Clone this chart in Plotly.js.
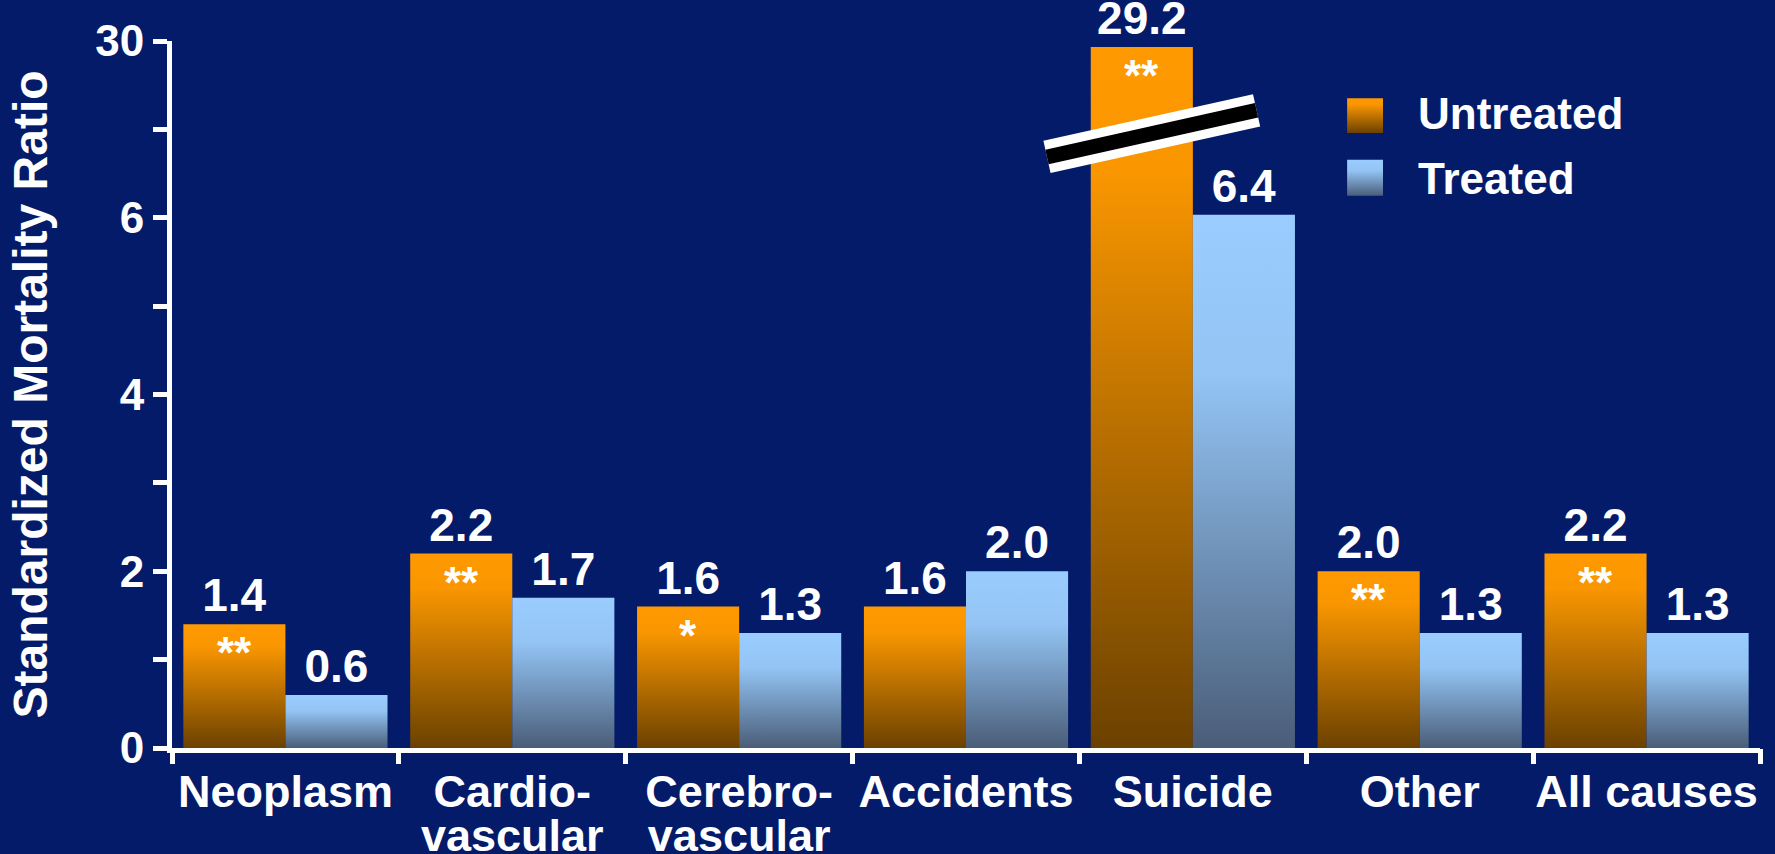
<!DOCTYPE html>
<html>
<head>
<meta charset="utf-8">
<script src="https://cdn.plot.ly/plotly-3.0.1.min.js"></script>
<style>
  html, body { margin: 0; padding: 0; background: #041B6A; }
  #chart { width: 1775px; height: 854px; }
</style>
</head>
<body>
<div id="chart"></div>
<script>
// ---- Data ----
const categories = ["Neoplasm", "Cardio-<br>vascular", "Cerebro-<br>vascular", "Accidents", "Suicide", "Other", "All causes"];
const untreated = [1.4, 2.2, 1.6, 1.6, 29.2, 2.0, 2.2];
const treated   = [0.6, 1.7, 1.3, 2.0, 6.4, 1.3, 1.3];
const significance = ["**", "**", "*", "", "**", "**", "**"];
const seriesNames = ["Untreated", "Treated"];
const yTickValues = [0, 2, 4, 6, 30];

// ---- Broken y axis: 0..6 linear, 6..30 compressed into 6..8 ----
const BREAK_LOW = 6, BREAK_HIGH = 30, BREAK_TOP = 8;
function toAxis(v) {
  return v <= BREAK_LOW ? v : BREAK_LOW + (v - BREAK_LOW) * (BREAK_TOP - BREAK_LOW) / (BREAK_HIGH - BREAK_LOW);
}

const FONT = "Liberation Sans, Arial, Helvetica, sans-serif";
const BG = "#041B6A";
const BARGAP = 0.1;
const barHalfOffset = (1 - BARGAP) / 4;

const idx = categories.map((c, i) => i);

const labelFont = { family: FONT, size: 46, color: "#ffffff", weight: 700 };

const traceU = {
  type: "bar", name: seriesNames[0],
  x: idx, y: untreated.map(toAxis),
  text: untreated.map(v => v.toFixed(1)),
  textposition: "outside", cliponaxis: false, constraintext: "none",
  textfont: labelFont, outsidetextfont: labelFont,
  marker: { color: "#FF9900", line: { width: 0 } },
  hoverinfo: "skip"
};
const traceT = {
  type: "bar", name: seriesNames[1],
  x: idx, y: treated.map(toAxis),
  text: treated.map(v => v.toFixed(1)),
  textposition: "outside", cliponaxis: false, constraintext: "none",
  textfont: labelFont, outsidetextfont: labelFont,
  marker: { color: "#99CCFF", line: { width: 0 } },
  hoverinfo: "skip"
};

// significance asterisks at the top inside untreated bars
const annotations = [];
significance.forEach((s, i) => {
  if (!s) return;
  annotations.push({
    x: i - barHalfOffset, xref: "x", y: toAxis(untreated[i]), yref: "y",
    yanchor: "top", xanchor: "center", yshift: -2,
    text: s, showarrow: false,
    font: { family: FONT, size: 44, color: "#ffffff", weight: 700 }
  });
});
// legend labels
annotations.push({
  x: 0.7834, xref: "paper", y: 0.897, yref: "paper", xanchor: "left", yanchor: "middle",
  text: seriesNames[0], showarrow: false,
  font: { family: FONT, size: 44, color: "#ffffff", weight: 700 }
});
annotations.push({
  x: 0.7834, xref: "paper", y: 0.806, yref: "paper", xanchor: "left", yanchor: "middle",
  text: seriesNames[1], showarrow: false,
  font: { family: FONT, size: 44, color: "#ffffff", weight: 700 }
});

const shapes = [
  // legend swatches (gradient applied after render)
  { type: "rect", xref: "paper", yref: "paper", x0: 0.740, x1: 0.7626, y0: 0.870, y1: 0.919,
    fillcolor: "#FF9900", line: { width: 0 } },
  { type: "rect", xref: "paper", yref: "paper", x0: 0.740, x1: 0.7626, y0: 0.781, y1: 0.832,
    fillcolor: "#99CCFF", line: { width: 0 } },
  // axis-break marker
  { type: "line", xref: "paper", yref: "paper", x0: 0.551, y0: 0.836, x1: 0.683, y1: 0.902,
    line: { color: "#ffffff", width: 33 } },
  { type: "line", xref: "paper", yref: "paper", x0: 0.551, y0: 0.836, x1: 0.683, y1: 0.902,
    line: { color: "#000000", width: 15 } }
];

const yTickPositions = [];
const yTickText = [];
for (let k = 0; k <= BREAK_TOP; k++) {
  yTickPositions.push(k);
  const lbl = yTickValues.find(v => Math.abs(toAxis(v) - k) < 1e-9);
  yTickText.push(lbl === undefined ? "" : String(lbl));
}

const layout = {
  width: 1775, height: 854,
  paper_bgcolor: BG, plot_bgcolor: BG,
  margin: { l: 172, r: 15, t: 41, b: 106 },
  barmode: "group", bargap: BARGAP, bargroupgap: 0,
  showlegend: false,
  xaxis: {
    type: "linear", range: [-0.5, categories.length - 0.5],
    tickmode: "array", tickvals: idx, ticktext: categories,
    showgrid: false, zeroline: false,
    showline: true, linecolor: "#ffffff", linewidth: 5,
    ticks: "", tickangle: 0,
    tickfont: { family: FONT, size: 45, color: "#ffffff", weight: 700 },
    fixedrange: true
  },
  xaxis2: {
    overlaying: "x", range: [-0.5, categories.length - 0.5], anchor: "y",
    tickmode: "array", tickvals: idx.concat([categories.length]).map(v => v - 0.5),
    ticktext: idx.concat([categories.length]).map(() => ""),
    ticks: "outside", ticklen: 15, tickwidth: 5, tickcolor: "#ffffff",
    showgrid: false, zeroline: false, showline: false, side: "bottom"
  },
  yaxis: {
    range: [0, BREAK_TOP],
    tickmode: "array", tickvals: yTickPositions, ticktext: yTickText,
    ticks: "outside", ticklen: 14, tickwidth: 5, tickcolor: "#ffffff",
    showgrid: false, zeroline: false,
    showline: true, linecolor: "#ffffff", linewidth: 5,
    tickfont: { family: FONT, size: 44, color: "#ffffff", weight: 700 },
    title: { text: "Standardized Mortality Ratio", standoff: 34,
             font: { family: FONT, size: 48, color: "#ffffff", weight: 700 } },
    fixedrange: true
  },
  shapes: shapes,
  annotations: annotations
};

// invisible trace on xaxis2 so its ticks (category boundaries) are drawn
const boundaryTrace = { type: "scatter", x: [-0.5], y: [0], xaxis: "x2", yaxis: "y",
  mode: "markers", marker: { size: 0.1, opacity: 0 }, hoverinfo: "skip", showlegend: false };

Plotly.newPlot("chart", [traceU, traceT, boundaryTrace], layout, { staticPlot: true, displayModeBar: false })
.then(function (gd) {
  const svg = gd.querySelector("svg.main-svg");
  const NS = "http://www.w3.org/2000/svg";
  const defs = document.createElementNS(NS, "defs");
  function grad(id, stops) {
    const g = document.createElementNS(NS, "linearGradient");
    g.setAttribute("id", id);
    g.setAttribute("x1", "0"); g.setAttribute("y1", "0");
    g.setAttribute("x2", "0"); g.setAttribute("y2", "1");
    stops.forEach(s => {
      const st = document.createElementNS(NS, "stop");
      st.setAttribute("offset", s[0]);
      st.setAttribute("stop-color", s[1]);
      g.appendChild(st);
    });
    defs.appendChild(g);
  }
  grad("gradU", [["0", "#FF9900"], ["0.18", "#F99600"], ["1", "#6B4100"]]);
  grad("gradT", [["0", "#9ACCFF"], ["0.3", "#93C4F4"], ["1", "#4A5D78"]]);
  svg.insertBefore(defs, svg.firstChild);

  const traces = gd.querySelectorAll(".barlayer .trace");
  const ids = ["gradU", "gradT"];
  traces.forEach((t, i) => {
    t.querySelectorAll("path").forEach(p => p.style.setProperty("fill", "url(#" + ids[i] + ")"));
  });
  const s0 = gd.querySelector('.shapelayer path[data-index="0"]');
  const s1 = gd.querySelector('.shapelayer path[data-index="1"]');
  if (s0) s0.style.setProperty("fill", "url(#gradU)");
  if (s1) s1.style.setProperty("fill", "url(#gradT)");

  // tighter line spacing for two-line category labels
  gd.querySelectorAll(".xtick text").forEach(t => {
    const lines = t.querySelectorAll("tspan.line");
    lines.forEach((ln, k) => { if (k > 0) ln.setAttribute("dy", (k * 0.98) + "em"); });
  });
});
</script>
</body>
</html>
